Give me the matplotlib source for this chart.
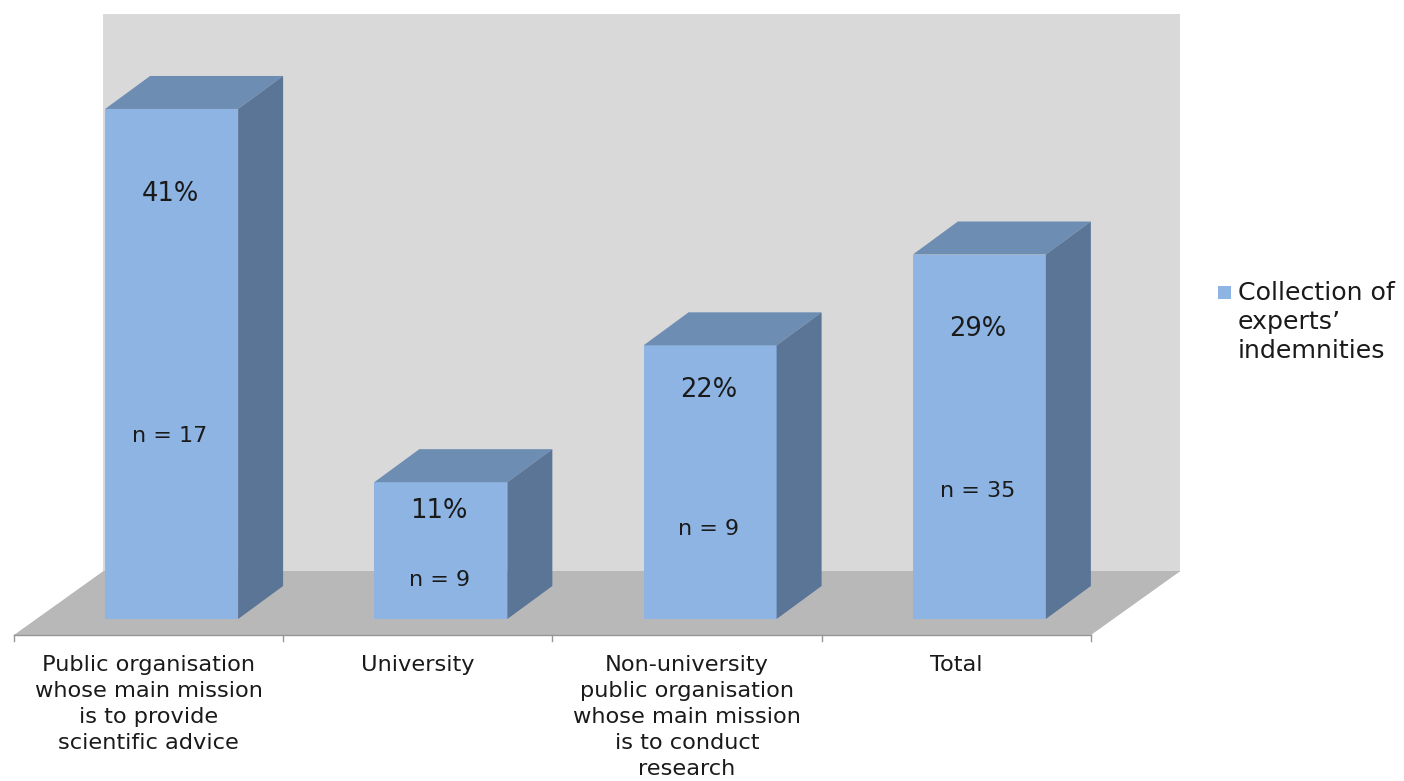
import matplotlib
matplotlib.use("Agg")
import matplotlib.pyplot as plt
from matplotlib.patches import Polygon, Rectangle

categories = [
    "Public organisation\nwhose main mission\nis to provide\nscientific advice",
    "University",
    "Non-university\npublic organisation\nwhose main mission\nis to conduct\nresearch",
    "Total",
]
values = [41, 11, 22, 29.3]
pct_labels = ["41%", "11%", "22%", "29%"]
n_labels = ["n = 17", "n = 9", "n = 9", "n = 35"]
# where the text sits inside each bar, in value units
pct_y = [34.2, 8.7, 18.4, 23.3]
n_y = [14.7, 3.1, 7.2, 10.3]

# scales of the front plane, in pixels per unit
px_x = 269.25
px_y = 12.44
x0_px = 171.6
y0_px = 619

fig = plt.figure(figsize=(14.04, 7.81), dpi=100)
ax = fig.add_axes([0, 0, 1, 1])
ax.set_xlim(-x0_px / px_x, (1404 - x0_px) / px_x)
ax.set_ylim((y0_px - 781) / px_y, y0_px / px_y)
ax.axis("off")

n = len(categories)
xs = list(range(n))

# floor runs from the axis line back to the wall, bars stand in the middle
front_dx = 23 / px_x
front_dy = 16 / px_y
floor_dx = 89.5 / px_x
floor_dy = 64 / px_y
left, right = -0.5 - front_dx, n - 0.5 - front_dx
base = -front_dy
wall_top = (y0_px - 14) / px_y

# back wall and floor
ax.add_patch(Rectangle((left + floor_dx, base + floor_dy), right - left, wall_top - base - floor_dy, fc="#D9D9D9", ec="none"))
ax.add_patch(Polygon([(left, base), (left + floor_dx, base + floor_dy), (right + floor_dx, base + floor_dy), (right, base)], fc="#B8B8B8", ec="none"))

# axis line and ticks
ax.plot([left, right], [base, base], color="#969696", lw=1)
for i in range(n + 1):
    ax.plot([left + i, left + i], [base, base - 6 / px_y], color="#969696", lw=1)

# bars
bar_w = 133 / px_x
bar_dx = 45 / px_x
bar_dy = 33 / px_y
ax.bar(xs, values, width=bar_w, color="#8DB4E3", zorder=3)
for x, v in zip(xs, values):
    x0, x1 = x - bar_w / 2, x + bar_w / 2
    ax.add_patch(Polygon([(x0, v), (x1, v), (x1 + bar_dx, v + bar_dy), (x0 + bar_dx, v + bar_dy)], fc="#6E8DB3", ec="none", zorder=3))
    ax.add_patch(Polygon([(x1, 0), (x1 + bar_dx, bar_dy), (x1 + bar_dx, v + bar_dy), (x1, v)], fc="#5A7596", ec="none", zorder=3))

for x, p, py, t, ty in zip(xs, pct_labels, pct_y, n_labels, n_y):
    ax.text(x - 0.006, py, p, ha="center", va="center", fontsize=18.5, color="#1A1A1A", zorder=4)
    ax.text(x - 0.006, ty, t, ha="center", va="center", fontsize=16, color="#1A1A1A", zorder=4)

# category labels
for x, c in zip(xs, categories):
    ax.text(x - front_dx, base - 20 / px_y, c, ha="center", va="top", fontsize=16.2, color="#1A1A1A", linespacing=1.37)

# legend
leg_x = (1218 - x0_px) / px_x
leg_y = (y0_px - 299) / px_y
ax.add_patch(Rectangle((leg_x, leg_y), 13 / px_x, 13 / px_y, fc="#8DB4E3", ec="none"))
ax.text((1238 - x0_px) / px_x, (y0_px - 322) / px_y, "Collection of\nexperts\u2019\nindemnities", ha="left", va="center", fontsize=18.2, color="#1A1A1A", linespacing=1.24)

fig.savefig("out.png", dpi=100)
